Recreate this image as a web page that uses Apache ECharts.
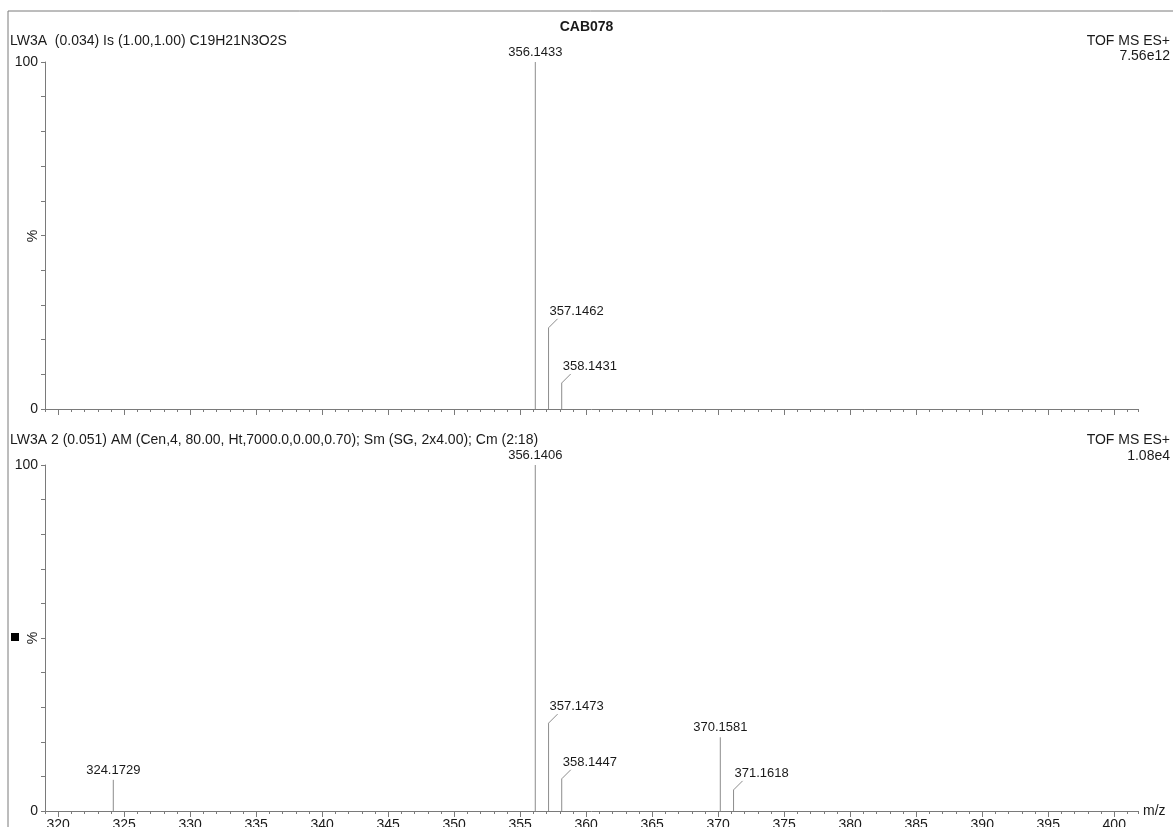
<!DOCTYPE html>
<html>
<head>
<meta charset="utf-8">
<title>CAB078</title>
<script src="https://cdn.jsdelivr.net/npm/echarts@6/dist/echarts.min.js"></script>
<style>
  html,body{margin:0;padding:0;background:#fff;}
  #main{width:1173px;height:827px;}
</style>
</head>
<body>
<div id="main"></div>
<script>
/*********** data ************************************/
// top trace: theoretical isotope pattern
var topMz = [356.1433, 357.1462, 358.1431];
var topPct = [100, 23.4, 7.5];
// bottom trace: measured
var botMz = [324.1729, 356.1406, 357.1473, 358.1447, 370.1581, 371.1618];
var botPct = [9.0, 100, 25.4, 9.3, 21.3, 6.1];
var xTicks = [320, 325, 330, 335, 340, 345, 350, 355, 360, 365, 370, 375, 380, 385, 390, 395, 400];

var topHead = 'LW3A  (0.034) Is (1.00,1.00) C19H21N3O2S';
var botHead = 'LW3A 2 (0.051) AM (Cen,4, 80.00, Ht,7000.0,0.00,0.70); Sm (SG, 2x4.00); Cm (2:18)';
var topScale = '7.56e12';
var botScale = '1.08e4';

var font = "'Liberation Sans', Arial, sans-serif";
var txt = '#1a1a1a';
var axisCol = '#7a7a7a';
var peakCol = '#8c8c8c';

var xMin = 319, xMax = 401.8;
var gLeft = 45, gRight = 35, W = 1173;
var pxPer = (W - gLeft - gRight) / (xMax - xMin);
// grid for the labelled 5-unit ticks sits exactly over 320..400
var majLeft = gLeft + (xTicks[0] - xMin) * pxPer;
var majRight = W - (gLeft + (xTicks[xTicks.length - 1] - xMin) * pxPer);

// label gets a bent leader when a peak sits just to its left
function buildData(mz, pct) {
  var out = [];
  for (var i = 0; i < mz.length; i++) {
    var bent = (i > 0 && mz[i] - mz[i - 1] < 1.5) ? 1 : 0;
    out.push([mz[i], pct[i], bent]);
  }
  return out;
}

function renderPeak(params, api) {
  var x = api.value(0), y = api.value(1), bent = api.value(2);
  var base = api.coord([x, 0]);
  var top = api.coord([x, y]);
  var label = x.toFixed(4);
  var kids = [{
    type: 'line',
    shape: {x1: base[0], y1: base[1], x2: top[0], y2: top[1]},
    style: {stroke: peakCol, lineWidth: 1}
  }];
  if (bent) {
    kids.push({
      type: 'line',
      shape: {x1: top[0], y1: top[1], x2: top[0] + 9, y2: top[1] - 9},
      style: {stroke: peakCol, lineWidth: 1}
    });
    kids.push({
      type: 'text',
      style: {text: label, x: top[0] + 1, y: top[1] - 10, align: 'left', verticalAlign: 'bottom',
        fontSize: 13, fontFamily: font, fill: txt}
    });
  } else {
    kids.push({
      type: 'text',
      style: {text: label, x: top[0], y: top[1] - 3, align: 'center', verticalAlign: 'bottom',
        fontSize: 13, fontFamily: font, fill: txt}
    });
  }
  return {type: 'group', children: kids};
}

function mainX(idx, showName) {
  return {
    type: 'value', gridIndex: idx, min: xMin, max: xMax, interval: 1,
    axisLine: {show: true, onZero: false, lineStyle: {color: axisCol, width: 1}},
    axisTick: {show: true, length: 3, lineStyle: {color: axisCol}},
    axisLabel: {show: false},
    splitLine: {show: false},
    name: showName ? 'm/z' : '',
    nameLocation: 'end', nameGap: 5,
    nameTextStyle: {fontSize: 14, fontFamily: font, color: txt, padding: [0, 0, 5, 0]}
  };
}
function majorX(idx, labels) {
  return {
    type: 'value', gridIndex: idx, min: xTicks[0], max: xTicks[xTicks.length - 1], interval: 5,
    axisLine: {show: false},
    axisTick: {show: true, length: 6, lineStyle: {color: axisCol}},
    axisLabel: {show: labels, fontSize: 14, fontFamily: font, color: txt, margin: 7},
    splitLine: {show: false}
  };
}
function mainY(idx) {
  return {
    type: 'value', gridIndex: idx, min: 0, max: 100, interval: 10,
    axisLine: {show: true, lineStyle: {color: axisCol, width: 1}},
    axisTick: {show: true, length: 4, lineStyle: {color: axisCol}},
    axisLabel: {fontSize: 14, fontFamily: font, color: txt, margin: 7,
      formatter: function (v) { return (v === 0 || v === 100) ? String(v) : ''; }},
    splitLine: {show: false}
  };
}
function hiddenY(idx) {
  return {type: 'value', gridIndex: idx, min: 0, max: 100, show: false};
}
function grid(l, r, t, h) {
  return {left: l, right: r, top: t, height: h, containLabel: false, outerBoundsMode: 'none'};
}
// rotated "%" beside each y axis
function pctLabel(cy) {
  return {type: 'text', x: 33, y: cy, rotation: Math.PI / 2,
    style: {text: '%', fontSize: 14, fontFamily: font, fill: txt, align: 'center', verticalAlign: 'middle'}};
}

var chart = echarts.init(document.getElementById('main'), null, {renderer: 'canvas'});
var option = {
  backgroundColor: '#fff',
  animation: false,
  title: {
    text: 'CAB078', left: 'center', top: 15,
    textStyle: {fontSize: 14, fontWeight: 'bold', fontFamily: font, color: txt}
  },
  grid: [
    grid(gLeft, gRight, 62, 347),
    grid(gLeft, gRight, 465, 346),
    grid(majLeft, majRight, 62, 347),
    grid(majLeft, majRight, 465, 346)
  ],
  xAxis: [mainX(0, false), mainX(1, true), majorX(2, false), majorX(3, true)],
  yAxis: [mainY(0), mainY(1), hiddenY(2), hiddenY(3)],
  graphic: [
    // frame on the top and left like the print-out
    {type: 'line', shape: {x1: 8, y1: 11, x2: 1173, y2: 11}, style: {stroke: axisCol, lineWidth: 1}},
    {type: 'line', shape: {x1: 8, y1: 11, x2: 8, y2: 827}, style: {stroke: axisCol, lineWidth: 1}},
    {type: 'text', left: 10, top: 34, style: {text: topHead, fontSize: 14, fontFamily: font, fill: txt}},
    {type: 'text', right: 3, top: 34, style: {text: 'TOF MS ES+', fontSize: 14, fontFamily: font, fill: txt}},
    {type: 'text', right: 3, top: 49, style: {text: topScale, fontSize: 14, fontFamily: font, fill: txt}},
    {type: 'text', left: 10, top: 433, style: {text: botHead, fontSize: 14, fontFamily: font, fill: txt}},
    {type: 'text', right: 3, top: 433, style: {text: 'TOF MS ES+', fontSize: 14, fontFamily: font, fill: txt}},
    {type: 'text', right: 3, top: 449, style: {text: botScale, fontSize: 14, fontFamily: font, fill: txt}},
    pctLabel(236),
    pctLabel(638),
    {type: 'rect', shape: {x: 11, y: 633, width: 8, height: 8}, style: {fill: '#000'}}
  ],
  series: [
    {type: 'custom', xAxisIndex: 0, yAxisIndex: 0, renderItem: renderPeak, data: buildData(topMz, topPct), clip: false},
    {type: 'custom', xAxisIndex: 1, yAxisIndex: 1, renderItem: renderPeak, data: buildData(botMz, botPct), clip: false}
  ]
};
chart.setOption(option);
</script>
</body>
</html>
